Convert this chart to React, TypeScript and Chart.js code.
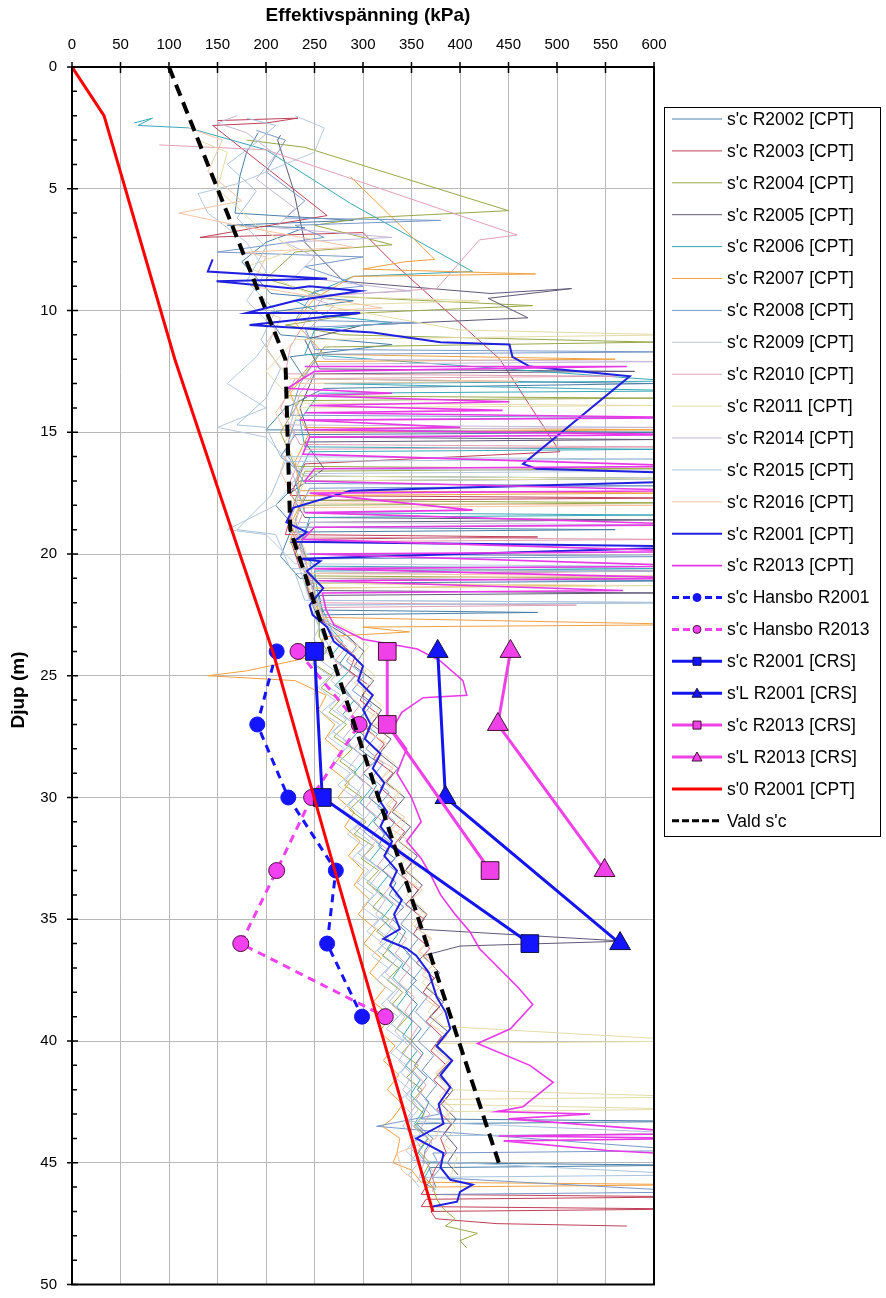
import React, { useEffect, useRef } from "react";
import { Chart, registerables } from "chart.js";
Chart.register(...registerables);

const X_TICKS = [0, 50, 100, 150, 200, 250, 300, 350, 400, 450, 500, 550, 600];
const Y_TICKS = [0, 5, 10, 15, 20, 25, 30, 35, 40, 45, 50];
const X_TITLE = "Effektivspänning (kPa)";
const Y_TITLE = "Djup (m)";

type P = [number, number]; // [depth m, kPa]

const r2002: P[] = [[2.7,192],[3.5,180],[4.5,173],[6.0,168],[6.3,290],[6.5,160],[6.6,240],[7.2,200],[8.0,175],[9.3,205],[9.6,290],[10.1,200],[11.0,215],[11.4,330],[11.9,225],[12.8,240],[13.0,600],[13.2,260],[14.0,220],[14.9,200],[15.0,620],[15.1,230],[16.0,215],[16.8,240],[16.9,650],[17.0,235],[18.0,210],[18.9,230],[19.0,560],[19.1,225],[20.1,215],[21.0,235],[21.1,650],[21.2,240],[22.3,250],[22.4,480],[22.5,255],[23.5,272],[24.0,285],[24.5,276],[25.0,292],[25.5,281],[26.0,290],[26.5,303],[27.0,288],[27.5,302],[28.0,296],[28.5,313],[29.0,300],[29.5,314],[30.0,306],[30.5,321],[31.0,311],[31.5,322],[32.0,316],[32.5,333],[33.0,320],[33.5,334],[34.0,327],[34.5,342],[35.0,330],[35.5,344],[36.0,337],[36.5,349],[37.0,340],[37.5,355],[38.0,344],[38.5,356],[39.0,347],[39.5,360],[40.0,350],[40.5,362],[41.0,353],[41.5,366],[42.0,356],[42.5,368],[43.2,360],[43.3,650],[43.4,355],[44.0,372],[44.5,364],[45.0,362],[45.1,640],[45.2,368],[46.0,375]];
const r2003: P[] = [[2.2,150],[2.1,233],[2.3,200],[2.4,145],[6.1,263],[7.0,132],[6.8,300],[8.0,330],[12.0,441],[15.8,503],[16.0,400],[16.3,240],[17.6,225],[17.7,620],[17.8,230],[19.2,220],[19.3,480],[19.4,225],[20.6,235],[20.7,630],[20.8,240],[21.8,245],[22.9,260],[23.6,275],[24.2,292],[24.8,286],[25.4,306],[26.0,297],[26.6,316],[27.2,304],[27.8,322],[28.4,311],[29.0,331],[29.6,318],[30.2,335],[30.8,325],[31.4,343],[32.0,331],[32.6,351],[33.2,340],[33.8,357],[34.4,344],[35.0,363],[35.6,352],[36.2,369],[36.8,355],[37.4,373],[38.0,362],[38.6,379],[39.2,365],[39.8,381],[40.4,370],[41.0,386],[41.6,373],[42.2,389],[42.8,376],[43.4,391],[44.0,380],[44.6,386],[45.2,375],[45.8,368],[46.3,360],[46.4,650],[46.5,365],[46.8,360],[46.9,640],[47.0,370],[47.3,375],[47.5,438],[47.6,572]];
const r2004: P[] = [[3.0,180],[3.3,240],[5.9,450],[6.2,300],[6.5,250],[7.3,330],[7.6,230],[8.7,200],[9.4,260],[9.8,475],[10.1,300],[10.6,220],[11.0,280],[11.3,600],[11.5,260],[12.5,240],[13.5,220],[13.6,600],[13.7,235],[15.0,215],[16.4,230],[16.5,600],[16.6,240],[17.8,230],[17.9,620],[18.0,235],[19.5,225],[20.9,245],[21.0,600],[21.1,240],[22.4,255],[23.4,255],[24.0,263],[24.5,249],[25.0,268],[25.5,257],[26.0,276],[26.5,265],[27.0,283],[27.5,270],[28.0,289],[28.5,276],[29.0,293],[29.5,281],[30.0,299],[30.5,286],[31.0,303],[31.5,291],[32.0,311],[32.5,298],[33.0,316],[33.5,304],[34.0,321],[34.5,310],[35.0,327],[35.5,314],[36.0,331],[36.5,320],[37.0,337],[37.5,325],[38.0,341],[38.5,330],[39.0,346],[39.5,335],[40.0,351],[40.5,340],[41.0,357],[41.5,345],[42.0,361],[42.5,350],[43.0,363],[43.5,353],[44.0,367],[44.5,357],[45.0,369],[45.5,362],[46.0,372],[46.5,376],[46.9,383],[47.3,395],[47.6,385],[47.9,418],[48.2,400],[48.5,407]];
const r2005: P[] = [[2.8,215],[3.0,212],[5.0,228],[7.2,240],[8.8,280],[9.3,431],[9.1,515],[9.5,429],[10.3,470],[10.6,300],[11.2,240],[12.4,255],[12.5,580],[12.6,250],[14.0,235],[15.2,245],[15.3,600],[15.4,240],[16.5,260],[17.5,225],[18.5,240],[18.6,600],[18.7,245],[20.0,230],[21.5,250],[21.6,600],[21.7,255],[22.8,260],[23.4,285],[24.0,301],[24.6,291],[25.2,311],[25.8,299],[26.4,319],[27.0,309],[27.6,329],[28.2,317],[28.8,336],[29.4,324],[30.0,343],[30.6,330],[31.2,349],[31.8,337],[32.4,356],[33.0,344],[33.6,361],[34.2,349],[34.8,366],[35.4,355],[35.9,570],[36.1,400],[36.5,362],[37.2,379],[37.8,365],[38.4,383],[39.0,369],[39.6,387],[40.2,374],[40.8,391],[41.4,377],[42.0,393],[42.6,381],[43.2,396],[43.8,384],[44.4,397],[45.0,387],[45.5,398]];
const r2006: P[] = [[2.3,64],[2.1,83],[2.4,68],[2.5,120],[3.4,200],[5.6,287],[8.4,413],[8.6,290],[9.6,230],[10.2,260],[10.5,330],[10.8,250],[11.8,240],[12.9,620],[13.0,260],[13.3,640],[13.4,255],[14.5,235],[15.6,240],[15.7,610],[15.8,245],[17.0,230],[18.3,240],[18.4,600],[18.5,245],[19.8,235],[20.5,250],[20.6,620],[20.7,250],[22.0,255],[23.1,268],[23.6,279],[24.2,267],[24.8,286],[25.4,271],[26.0,291],[26.6,279],[27.2,297],[27.8,284],[28.4,303],[29.0,291],[29.6,309],[30.2,297],[30.8,313],[31.4,301],[32.0,319],[32.6,307],[33.2,326],[33.8,314],[34.4,331],[35.0,319],[35.6,336],[36.2,325],[36.8,341],[37.4,331],[38.0,346],[38.6,335],[39.2,351],[39.8,341],[40.4,356],[41.0,344],[41.6,359],[42.2,349],[42.8,363],[43.4,353],[44.0,367],[44.6,357],[45.2,369],[45.8,361],[46.1,375]];
const r2007: P[] = [[4.5,287],[7.9,374],[8.0,343],[8.3,300],[8.5,478],[8.6,290],[9.5,250],[10.5,230],[11.8,260],[12.0,560],[12.1,250],[13.4,225],[14.8,240],[14.9,600],[15.0,245],[16.2,230],[17.4,235],[17.5,620],[17.6,240],[18.8,225],[20.0,240],[21.2,245],[21.3,540],[21.4,250],[22.6,255],[22.9,650],[23.0,300],[23.2,348],[23.4,260],[24.2,250],[24.8,180],[25.0,140],[25.2,230],[25.8,262],[26.4,254],[27.0,271],[27.6,261],[28.2,279],[28.8,267],[29.4,286],[30.0,274],[30.6,291],[31.2,281],[31.8,297],[32.4,285],[33.0,301],[33.6,291],[34.2,307],[34.8,295],[35.4,313],[36.0,301],[36.6,319],[37.2,307],[37.8,323],[38.4,311],[39.0,329],[39.6,317],[40.2,333],[40.8,321],[41.4,337],[42.0,325],[42.6,341],[43.2,330],[43.5,320],[44.0,338],[44.6,335],[45.0,331],[45.3,350],[45.8,360],[45.9,650],[46.0,365]];
const r2008: P[] = [[2.6,190],[3.0,220],[4.3,200],[5.5,240],[6.2,220],[6.3,380],[6.5,230],[7.0,260],[7.6,150],[7.8,300],[8.2,240],[9.0,300],[9.2,250],[10.4,230],[10.5,360],[10.7,240],[11.6,250],[11.7,620],[11.8,255],[13.0,235],[14.3,225],[14.4,600],[14.5,230],[15.8,220],[17.1,240],[17.2,600],[17.3,245],[18.6,230],[20.0,240],[20.1,640],[20.2,245],[21.6,250],[22.7,260],[23.2,280],[23.8,293],[24.4,283],[25.0,301],[25.6,289],[26.2,309],[26.8,295],[27.4,315],[28.0,303],[28.6,321],[29.2,309],[29.8,327],[30.4,315],[31.0,333],[31.6,321],[32.2,339],[32.8,327],[33.4,345],[34.0,333],[34.6,351],[35.2,339],[35.8,357],[36.4,345],[37.0,361],[37.6,349],[38.2,366],[38.8,354],[39.4,369],[40.0,357],[40.6,373],[41.2,361],[41.8,376],[42.4,364],[43.0,379],[43.5,314],[43.7,370],[44.5,640],[44.6,372],[45.2,380],[45.6,372],[46.2,650],[46.3,378]];
const r2009: P[] = [[2.0,230],[2.5,260],[3.5,250],[4.8,170],[5.2,130],[6.0,140],[7.2,180],[8.4,200],[9.6,180],[10.8,210],[11.9,190],[13.0,160],[14.0,200],[14.8,150],[15.2,200],[16.5,230],[16.6,600],[16.7,235],[18.0,210],[19.0,160],[19.2,200],[20.4,230],[20.5,580],[20.6,235],[21.9,245],[22.0,650],[22.1,250],[23.0,255],[23.5,249],[24.0,262],[24.5,247],[25.0,266],[25.5,254],[26.0,271],[26.5,257],[27.0,276],[27.5,264],[28.0,281],[28.5,269],[29.0,287],[29.5,274],[30.0,291],[30.5,279],[31.0,297],[31.5,284],[32.0,301],[32.5,289],[33.0,306],[33.5,294],[34.0,311],[34.5,299],[35.0,316],[35.5,304],[36.0,321],[36.5,309],[37.0,326],[37.5,314],[38.0,331],[38.5,319],[39.0,336],[39.5,324],[40.0,341],[40.5,329],[41.0,345],[41.5,333],[42.0,349],[42.5,337],[43.0,351],[43.5,341],[44.0,355],[44.5,344],[45.0,357],[45.5,347],[46.0,358]];
const r2010: P[] = [[3.2,90],[3.4,200],[6.9,459],[7.1,420],[9.1,376],[9.4,260],[10.5,240],[11.5,225],[12.6,220],[12.7,560],[12.8,230],[14.0,215],[15.5,235],[15.6,600],[15.7,240],[17.0,225],[18.1,240],[19.3,228],[19.4,620],[19.5,232],[20.8,245],[22.0,250],[22.1,520],[22.2,255],[23.2,265],[23.8,283],[24.4,271],[25.0,291],[25.6,279],[26.2,297],[26.8,285],[27.4,303],[28.0,291],[28.6,309],[29.2,297],[29.8,315],[30.4,303],[31.0,321],[31.6,309],[32.2,327],[32.8,315],[33.4,333],[34.0,321],[34.6,339],[35.2,327],[35.8,345],[36.4,333],[37.0,349],[37.6,337],[38.2,353],[38.8,343],[39.4,357],[40.0,347],[40.6,361],[41.2,351],[41.8,365],[42.4,355],[43.0,369],[43.6,359],[44.2,371],[44.8,361],[45.4,373],[46.2,372]];
const r2011: P[] = [[3.0,130],[3.5,160],[5.0,150],[6.5,190],[7.5,230],[8.2,180],[9.4,250],[9.6,420],[9.8,260],[10.8,400],[11.0,620],[11.2,230],[12.5,200],[13.8,230],[13.9,600],[14.0,235],[15.4,220],[16.8,238],[16.9,620],[17.0,240],[18.4,225],[19.8,240],[21.2,250],[21.3,600],[21.4,250],[22.6,258],[23.2,290],[23.8,306],[24.4,294],[25.0,313],[25.6,299],[26.2,319],[26.8,307],[27.4,326],[28.0,314],[28.6,333],[29.2,319],[29.8,339],[30.4,325],[31.0,345],[31.6,331],[32.2,351],[32.8,339],[33.4,357],[34.0,345],[34.6,363],[35.2,351],[35.8,369],[36.4,357],[37.0,375],[37.6,361],[38.2,379],[38.8,367],[39.4,383],[40.0,650],[40.1,375],[40.8,389],[41.4,375],[42.0,391],[42.3,650],[42.4,380],[42.6,382],[42.8,640],[42.9,386],[43.6,395],[44.2,383],[44.8,397],[45.6,390]];
const r2014: P[] = [[2.0,170],[2.3,150],[2.7,180],[3.6,210],[4.6,190],[5.8,230],[6.6,210],[7.0,330],[7.2,220],[7.8,250],[8.6,230],[9.2,350],[9.4,240],[9.8,270],[10.9,240],[12.0,260],[12.1,620],[12.2,255],[13.4,235],[14.7,225],[14.8,600],[14.9,230],[16.1,220],[17.4,235],[18.7,225],[18.8,600],[18.9,230],[20.2,240],[21.5,248],[22.8,262],[23.4,271],[24.0,261],[24.6,279],[25.2,267],[25.8,286],[26.4,273],[27.0,291],[27.6,279],[28.2,297],[28.8,285],[29.4,301],[30.0,291],[30.6,307],[31.2,295],[31.8,313],[32.4,301],[33.0,319],[33.6,307],[34.2,323],[34.8,313],[35.4,329],[36.0,317],[36.6,335],[37.2,323],[37.8,339],[38.4,327],[39.0,343],[39.6,333],[40.2,347],[40.8,337],[41.4,351],[42.0,341],[42.6,355],[43.2,345],[43.8,359],[44.4,349],[45.0,363],[45.8,356]];
const r2015: P[] = [[2.1,180],[2.4,210],[3.1,190],[4.0,160],[5.1,190],[6.2,170],[7.4,200],[8.8,180],[10.0,210],[11.2,195],[12.4,215],[13.6,200],[14.7,170],[14.8,200],[16.0,215],[16.1,600],[16.2,220],[17.6,205],[19.0,170],[19.2,210],[20.6,225],[20.7,600],[20.8,230],[21.9,240],[22.0,650],[22.1,245],[23.3,258],[23.8,265],[24.3,254],[24.8,271],[25.3,259],[25.8,277],[26.3,265],[26.8,283],[27.3,269],[27.8,287],[28.3,275],[28.8,293],[29.3,281],[29.8,297],[30.3,285],[30.8,301],[31.3,291],[31.8,307],[32.3,295],[32.8,313],[33.3,301],[33.8,317],[34.3,305],[34.8,321],[35.3,311],[35.8,327],[36.3,315],[36.8,331],[37.3,319],[37.8,336],[38.3,325],[38.8,341],[39.3,329],[39.8,345],[40.3,334],[40.8,349],[41.3,339],[41.8,353],[42.3,344],[42.8,357],[43.3,347],[43.8,640],[43.9,352],[44.4,360],[44.9,350],[45.5,650],[45.6,358]];
const r2016: P[] = [[2.5,120],[3.0,155],[4.3,140],[5.5,175],[6.0,110],[6.5,170],[7.4,290],[7.6,180],[7.8,200],[9.0,185],[9.9,320],[10.1,200],[10.3,215],[11.6,200],[12.8,225],[12.9,460],[13.0,230],[14.2,210],[15.4,225],[16.6,215],[17.9,230],[18.0,600],[18.1,235],[19.4,225],[20.8,240],[20.9,620],[21.0,242],[22.2,250],[23.3,275],[23.8,296],[24.3,284],[24.8,303],[25.3,291],[25.8,311],[26.3,299],[26.8,319],[27.3,305],[27.8,325],[28.3,311],[28.8,331],[29.3,317],[29.8,337],[30.3,324],[30.8,343],[31.3,329],[31.8,349],[32.3,335],[32.8,355],[33.3,341],[33.8,361],[34.3,347],[34.8,365],[35.3,353],[35.8,371],[36.3,357],[36.8,375],[37.3,361],[37.8,379],[38.3,365],[38.8,383],[39.3,369],[39.8,387],[40.3,373],[40.8,389],[41.3,375],[41.8,391],[42.3,379],[42.8,393],[43.3,381],[44.0,375],[44.6,335],[45.3,340],[45.8,355]];
const r2001: P[] = [[7.9,145],[8.4,140],[8.7,263],[8.8,149],[9.1,228],[9.0,245],[9.2,297],[9.6,230],[10.1,180],[10.1,297],[10.6,183],[10.9,310],[11.3,380],[11.4,451],[11.9,454],[12.3,472],[12.7,575],[16.3,465],[16.5,479],[16.7,650],[17.0,650],[17.4,287],[18.1,228],[18.7,221],[19.1,242],[19.5,228],[19.7,650],[20.2,235],[20.3,256],[20.7,242],[21.4,259],[22.1,245],[22.5,248],[23.0,263],[23.6,270],[24.2,290],[24.6,300],[25.2,295],[25.8,310],[26.4,300],[27.0,308],[27.6,302],[28.2,318],[28.8,310],[29.4,322],[30.0,315],[30.6,325],[31.2,318],[31.8,330],[32.4,322],[33.0,335],[33.6,328],[34.2,340],[34.8,332],[35.4,338],[35.8,321],[36.2,345],[36.5,355],[37.2,368],[38.2,376],[38.8,385],[39.5,390],[40.2,376],[40.8,392],[41.4,380],[41.9,390],[42.6,378],[43.4,383],[44.0,355],[44.6,383],[45.2,380],[45.7,390],[45.9,413],[46.2,400],[46.6,397],[46.8,372]];
const r2013: P[] = [[12.3,240],[12.3,572],[12.5,250],[13.2,222],[13.4,330],[13.5,240],[13.75,451],[13.9,245],[14.1,444],[14.2,240],[14.4,650],[14.5,235],[14.8,400],[14.9,240],[15.1,650],[15.2,245],[15.9,238],[16.4,650],[16.5,250],[17.0,240],[17.4,650],[17.5,245],[18.2,413],[18.3,240],[18.8,650],[18.9,250],[19.4,238],[19.9,650],[20.0,245],[20.5,650],[20.6,250],[21.0,650],[21.1,255],[21.5,568],[21.6,258],[22.3,262],[22.9,270],[23.5,300],[23.9,356],[24.4,380],[25.2,403],[25.8,407],[25.9,362],[26.5,340],[27.2,330],[28.0,345],[29.0,335],[30.0,350],[31.0,360],[31.8,345],[32.5,360],[33.2,370],[34.0,380],[34.8,395],[35.5,410],[36.2,420],[37.0,440],[37.8,460],[38.5,475],[39.5,452],[40.1,418],[41.0,472],[41.7,496],[42.7,465],[42.9,438],[43.0,534],[43.2,450],[43.8,650],[43.9,440],[44.0,650],[44.1,445],[44.5,552],[44.6,600]];

const hansboDepths = [24, 27, 30, 33, 36, 39];
const hansboR2001 = [211, 191, 223, 272, 263, 299];
const hansboR2013 = [233, 296, 247, 211, 174, 323];
const crsR2001Depths = [24, 30, 36];
const scR2001Crs = [250, 258, 472];
const slR2001Crs = [377, 385, 565];
const crsR2013Depths = [24, 27, 33];
const scR2013Crs = [325, 325, 431];
const slR2013Crs = [452, 439, 549];
const s0Depths = [0, 2, 5, 12, 20, 24, 33, 47];
const s0R2001 = [0, 33, 55, 106, 173, 207, 271, 372];
const valdDepths = [0, 12, 19, 45];
const valdSc = [100, 220, 225, 440];

const toXY = (arr: P[]) => arr.map(([d, v]) => ({ x: v, y: d }));
const zip = (ds: number[], vs: number[]) => ds.map((d, i) => ({ x: vs[i], y: d }));

const FONT = '"Liberation Sans", Arial, sans-serif';

function cpt(label: string, data: P[], color: string, width = 1) {
  return {
    label, data: toXY(data), borderColor: color, backgroundColor: color,
    borderWidth: width, showLine: true, pointRadius: 0, pointHoverRadius: 0, tension: 0,
  };
}

const decor = {
  id: "decor",
  afterDraw(chart: any) {
    const { ctx, chartArea: a, scales } = chart;
    const xs = scales.x, ys = scales.y;
    ctx.save();
    ctx.strokeStyle = "#000";
    ctx.lineWidth = 2;
    ctx.strokeRect(a.left, a.top, a.right - a.left, a.bottom - a.top);
    ctx.lineWidth = 1.5;
    ctx.beginPath();
    X_TICKS.forEach((v) => { const x = xs.getPixelForValue(v); ctx.moveTo(x, a.top - 5); ctx.lineTo(x, a.top + 6); });
    for (let d = 0; d <= 50; d++) {
      const y = ys.getPixelForValue(d);
      if (d % 5 === 0) { ctx.moveTo(a.left - 5, y); ctx.lineTo(a.left + 6, y); }
      else { ctx.moveTo(a.left, y); ctx.lineTo(a.left + 5, y); }
    }
    ctx.stroke();
    ctx.fillStyle = "#000";
    ctx.font = `15px ${FONT}`;
    ctx.textAlign = "center";
    ctx.textBaseline = "middle";
    X_TICKS.forEach((v) => ctx.fillText(String(v), xs.getPixelForValue(v), 45));
    ctx.textAlign = "right";
    Y_TICKS.forEach((v) => ctx.fillText(String(v), 57, ys.getPixelForValue(v)));
    ctx.font = `bold 19px ${FONT}`;
    ctx.textAlign = "center";
    ctx.fillText(X_TITLE, 368, 16);
    ctx.save();
    ctx.translate(19, 690);
    ctx.rotate(-Math.PI / 2);
    ctx.fillText(Y_TITLE, 0, 0);
    ctx.restore();

    // legend
    const L = 664, T = 107, R = 880, B = 836;
    ctx.lineWidth = 1;
    ctx.strokeStyle = "#000";
    ctx.strokeRect(L + 0.5, T + 0.5, R - L, B - T);
    ctx.font = `17.5px ${FONT}`;
    ctx.textAlign = "left";
    chart.data.datasets.forEach((ds: any, i: number) => {
      const y = 119 + i * 31.9;
      ctx.save();
      ctx.strokeStyle = ds.borderColor;
      ctx.lineWidth = Math.min(ds.borderWidth, 3);
      ctx.setLineDash(ds.legendDash || []);
      ctx.beginPath();
      ctx.moveTo(672, y);
      ctx.lineTo(722, y);
      ctx.stroke();
      ctx.setLineDash([]);
      if (ds.pointStyle && ds.pointRadius > 0) {
        ctx.fillStyle = ds.pointBackgroundColor;
        ctx.strokeStyle = ds.pointBorderColor;
        ctx.lineWidth = 1;
        ctx.beginPath();
        const cx = 697, r = 4;
        if (ds.pointStyle === "circle") ctx.arc(cx, y, r, 0, Math.PI * 2);
        else if (ds.pointStyle === "rect") ctx.rect(cx - r, y - r, 2 * r, 2 * r);
        else { ctx.moveTo(cx, y - r - 1); ctx.lineTo(cx + r + 1, y + r); ctx.lineTo(cx - r - 1, y + r); ctx.closePath(); }
        ctx.fill();
        ctx.stroke();
      }
      ctx.restore();
      ctx.fillStyle = "#000";
      ctx.fillText(ds.label, 727, y + 1);
    });
    ctx.restore();
  },
};

export default function App() {
  const ref = useRef<HTMLCanvasElement | null>(null);
  useEffect(() => {
    if (!ref.current) return;
    const datasets: any[] = [
      cpt("s'c R2002 [CPT]", r2002, "#4a7fa8"),
      cpt("s'c R2003 [CPT]", r2003, "#c04058"),
      cpt("s'c R2004 [CPT]", r2004, "#98a848"),
      cpt("s'c R2005 [CPT]", r2005, "#605878"),
      cpt("s'c R2006 [CPT]", r2006, "#38a8b8"),
      cpt("s'c R2007 [CPT]", r2007, "#f0a040"),
      cpt("s'c R2008 [CPT]", r2008, "#7898c8"),
      cpt("s'c R2009 [CPT]", r2009, "#b8c8dc"),
      cpt("s'c R2010 [CPT]", r2010, "#e0a0b4"),
      cpt("s'c R2011 [CPT]", r2011, "#e4dca8"),
      cpt("s'c R2014 [CPT]", r2014, "#c4b8d8"),
      cpt("s'c R2015 [CPT]", r2015, "#a8c4dc"),
      cpt("s'c R2016 [CPT]", r2016, "#f4c4a4"),
      cpt("s'c R2001 [CPT]", r2001, "#2020e0", 2),
      cpt("s'c R2013 [CPT]", r2013, "#e838e8", 1.6),
      {
        label: "s'c Hansbo R2001", data: zip(hansboDepths, hansboR2001), borderColor: "#1414ff",
        borderWidth: 3, borderDash: [8, 6], legendDash: [7, 4], showLine: true, pointStyle: "circle", pointRadius: 7.5,
        pointBackgroundColor: "#1414ff", pointBorderColor: "#1414ff", pointBorderWidth: 1, backgroundColor: "#1414ff",
      },
      {
        label: "s'c Hansbo R2013", data: zip(hansboDepths, hansboR2013), borderColor: "#f040f0",
        borderWidth: 3, borderDash: [8, 6], legendDash: [7, 4], showLine: true, pointStyle: "circle", pointRadius: 8,
        pointBackgroundColor: "#f040f0", pointBorderColor: "#501040", pointBorderWidth: 1, backgroundColor: "#f040f0",
      },
      {
        label: "s'c R2001 [CRS]", data: zip(crsR2001Depths, scR2001Crs), borderColor: "#1414f0",
        borderWidth: 3, showLine: true, pointStyle: "rect", pointRadius: 12.5,
        pointBackgroundColor: "#1414ff", pointBorderColor: "#101040", pointBorderWidth: 1, backgroundColor: "#1414ff",
      },
      {
        label: "s'L R2001 [CRS]", data: zip(crsR2001Depths, slR2001Crs), borderColor: "#1414f0",
        borderWidth: 3, showLine: true, pointStyle: "triangle", pointRadius: 12,
        pointBackgroundColor: "#1414ff", pointBorderColor: "#101040", pointBorderWidth: 1, backgroundColor: "#1414ff",
      },
      {
        label: "s'c R2013 [CRS]", data: zip(crsR2013Depths, scR2013Crs), borderColor: "#f040e8",
        borderWidth: 3, showLine: true, pointStyle: "rect", pointRadius: 12.5,
        pointBackgroundColor: "#f040e8", pointBorderColor: "#401030", pointBorderWidth: 1, backgroundColor: "#f040e8",
      },
      {
        label: "s'L R2013 [CRS]", data: zip(crsR2013Depths, slR2013Crs), borderColor: "#f040e8",
        borderWidth: 3, showLine: true, pointStyle: "triangle", pointRadius: 12,
        pointBackgroundColor: "#f040e8", pointBorderColor: "#401030", pointBorderWidth: 1, backgroundColor: "#f040e8",
      },
      {
        label: "s'0 R2001 [CPT]", data: zip(s0Depths, s0R2001), borderColor: "#ff0000",
        borderWidth: 3, showLine: true, pointRadius: 0, backgroundColor: "#ff0000",
      },
      {
        label: "Vald s'c", data: zip(valdDepths, valdSc), borderColor: "#000000",
        borderWidth: 4, borderDash: [12, 7], legendDash: [7, 3], showLine: true, pointRadius: 0, backgroundColor: "#000",
      },
    ];
    const n = datasets.length;
    datasets.forEach((d, i) => { d.order = n - 1 - i; d.tension = 0; d.pointHoverRadius = d.pointRadius; });

    const chart = new Chart(ref.current, {
      type: "scatter",
      data: { datasets },
      options: {
        responsive: false,
        animation: false,
        devicePixelRatio: 1,
        layout: { padding: { left: 72, top: 67, right: 232, bottom: 9 } },
        plugins: { legend: { display: false }, tooltip: { enabled: false } },
        events: [],
        scales: {
          x: {
            type: "linear", position: "top", min: 0, max: 600,
            ticks: { display: false, stepSize: 50 },
            grid: { color: "#b8b8b8", lineWidth: 1, drawTicks: false },
            border: { display: false },
            afterFit: (s: any) => { s.height = 0; },
          },
          y: {
            type: "linear", reverse: true, min: 0, max: 50,
            ticks: { display: false, stepSize: 5 },
            grid: { color: "#b8b8b8", lineWidth: 1, drawTicks: false },
            border: { display: false },
            afterFit: (s: any) => { s.width = 0; },
          },
        },
      } as any,
      plugins: [decor],
    });
    return () => chart.destroy();
  }, []);
  return (
    <canvas
      ref={ref}
      width={886}
      height={1298}
      style={{ position: "absolute", left: 0, top: 0, width: 886, height: 1298, background: "#fff" }}
    />
  );
}
